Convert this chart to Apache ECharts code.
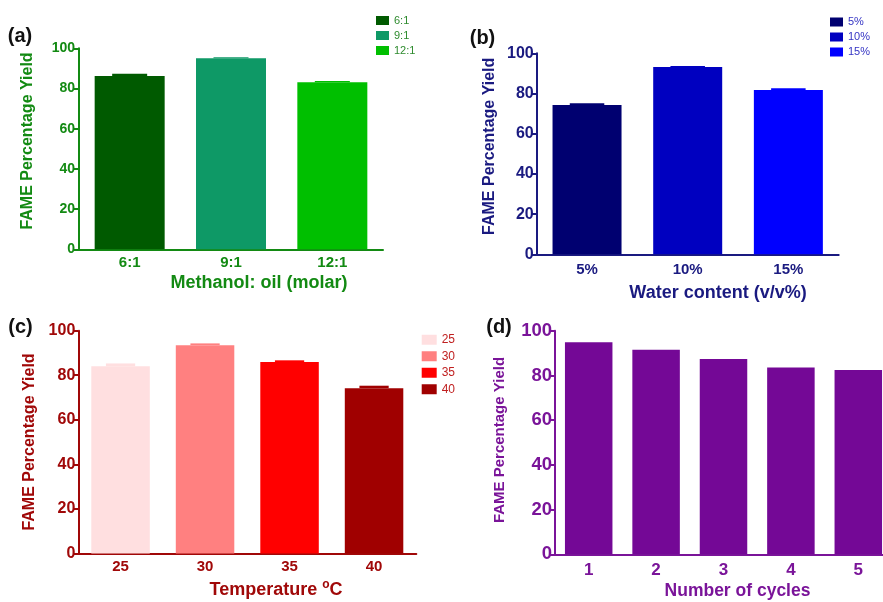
<!DOCTYPE html>
<html>
<head>
<meta charset="utf-8">
<script src="https://cdn.jsdelivr.net/npm/echarts@6/dist/echarts.min.js"></script>
<style>
html,body{margin:0;padding:0;background:#fff;}
#chart{width:883px;height:602px;}
</style>
</head>
<body>
<div id="chart"></div>
<script>
// ---- data ----
const catsA = ['6:1', '9:1', '12:1'];
const valsA = [86.2, 95.0, 83.1];
const errsA = [1.2, 0.6, 0.6];

const catsB = ['5%', '10%', '15%'];
const valsB = [74.3, 93.2, 81.7];
const errsB = [0.8, 0.5, 0.9];

const catsC = ['25', '30', '35', '40'];
const valsC = [84.0, 93.5, 85.9, 74.2];
const errsC = [1.3, 0.8, 0.8, 1.1];

const catsD = ['1', '2', '3', '4', '5'];
const valsD = [94.8, 91.5, 87.3, 83.5, 82.4];

const yMin = 0, yMax = 100, yStep = 20;

// ---- styling ----
const FONT = "'Liberation Sans', Arial, sans-serif";
const panels = [
  { cats: catsA, vals: valsA, errs: errsA, colors: ['#005a00', '#0e9966', '#00bf00'],
    axis: '#138a13', legendText: '#2e8b2e',
    grid: { left: 79, top: 48.3, width: 304, height: 201 }, barWidth: 70,
    yFont: 14, xFont: 15, xMargin: 6, yMargin: 4,
    legend: { left: 376, top: 14.5, w: 13, h: 9, gap: 3, font: 11, lh: 12 } },
  { cats: catsB, vals: valsB, errs: errsB, colors: ['#000070', '#0000c0', '#0000ff'],
    axis: '#1a1a80', legendText: '#3434c4',
    grid: { left: 536.7, top: 53.3, width: 302, height: 201 }, barWidth: 69,
    yFont: 16, xFont: 15, xMargin: 8, yMargin: 3,
    legend: { left: 830, top: 16, w: 13, h: 9, gap: 3, font: 11, lh: 12 } },
  { cats: catsC, vals: valsC, errs: errsC, colors: ['#ffdfe0', '#ff8080', '#ff0000', '#a00000'],
    axis: '#a00808', legendText: '#c02020',
    grid: { left: 78.3, top: 330.7, width: 338, height: 222.7 }, barWidth: 58.5,
    yFont: 16, xFont: 15, xMargin: 6, yMargin: 3,
    legend: { left: 421.7, top: 333, w: 15, h: 10, gap: 3, font: 12, lh: 13.5 } },
  { cats: catsD, vals: valsD, errs: null, colors: ['#740896'],
    axis: '#7a1499', legendText: null,
    grid: { left: 555, top: 330.7, width: 337, height: 223.6 }, barWidth: 47.5,
    yFont: 18.5, xFont: 17, xMargin: 8, yMargin: 3, legend: null }
];

const grids = [], xAxes = [], yAxes = [], series = [], legends = [];
panels.forEach((p, gi) => {
  grids.push(Object.assign({ outerBoundsMode: 'none', containLabel: false }, p.grid));
  xAxes.push({
    type: 'category', gridIndex: gi, data: p.cats,
    axisLine: { lineStyle: { color: p.axis, width: 2 } },
    axisTick: { alignWithLabel: true, length: 4, lineStyle: { color: p.axis, width: 2 } },
    axisLabel: { color: p.axis, fontSize: p.xFont, fontWeight: 'bold', fontFamily: FONT, margin: p.xMargin },
    splitLine: { show: false }
  });
  yAxes.push({
    type: 'value', gridIndex: gi, min: yMin, max: yMax, interval: yStep,
    axisLine: { show: true, lineStyle: { color: p.axis, width: 2 } },
    axisTick: { show: true, length: 5, lineStyle: { color: p.axis, width: 2 } },
    axisLabel: { color: p.axis, fontSize: p.yFont, fontWeight: 'bold', fontFamily: FONT, margin: p.yMargin },
    splitLine: { show: false }
  });
  if (p.cats.length === p.colors.length && p.legend) {
    p.cats.forEach((c, i) => {
      series.push({
        type: 'bar', name: c, xAxisIndex: gi, yAxisIndex: gi, stack: 'p' + gi,
        barWidth: p.barWidth,
        data: p.vals.map((v, j) => (j === i ? v : '-')),
        itemStyle: { color: p.colors[i] },
        emphasis: { disabled: true }
      });
    });
    legends.push({
      orient: 'vertical', left: p.legend.left, top: p.legend.top,
      data: p.cats, icon: 'rect', itemWidth: p.legend.w, itemHeight: p.legend.h,
      itemGap: p.legend.gap, selectedMode: false, padding: 0,
      textStyle: { color: p.legendText, fontSize: p.legend.font, fontFamily: FONT, lineHeight: p.legend.lh, padding: [0, 0, 0, 0] }
    });
  } else {
    series.push({
      type: 'bar', name: 'cycles', xAxisIndex: gi, yAxisIndex: gi, barWidth: p.barWidth,
      data: p.vals, itemStyle: { color: p.colors[0] }, emphasis: { disabled: true }
    });
  }
  if (p.errs) {
    const bw = p.barWidth, cols = p.colors;
    series.push({
      type: 'custom', xAxisIndex: gi, yAxisIndex: gi, z: 3,
      data: p.vals.map((v, i) => [i, v, p.errs[i]]),
      encode: { x: 0, y: 1 },
      renderItem: function (params, api) {
        const i = api.value(0), v = api.value(1), e = api.value(2);
        const base = api.coord([i, v]);
        const top = api.coord([i, v + e]);
        const w = bw * 0.5;
        return {
          type: 'rect',
          shape: { x: base[0] - w / 2, y: top[1], width: w, height: base[1] - top[1] },
          style: { fill: cols[i] }
        };
      }
    });
  }
});

function ytitle(x, y, color, size) {
  return { type: 'text', x: x, y: y, rotation: Math.PI / 2,
    style: { text: 'FAME Percentage Yield', fill: color, font: 'bold ' + size + 'px ' + FONT,
      align: 'center', verticalAlign: 'middle' } };
}
function xtitle(x, y, text, color, size) {
  return { type: 'text', x: x, y: y,
    style: { text: text, fill: color, font: 'bold ' + size + 'px ' + FONT,
      align: 'center', verticalAlign: 'middle' } };
}
function letter(x, y, text) {
  return { type: 'text', x: x, y: y,
    style: { text: text, fill: '#111', font: 'bold 20px ' + FONT, align: 'center', verticalAlign: 'middle' } };
}

const graphics = [
  letter(20, 36, '(a)'), letter(482.5, 38, '(b)'), letter(20.5, 327, '(c)'), letter(499, 327, '(d)'),
  ytitle(27.3, 141, panels[0].axis, 16),
  ytitle(489.3, 146.3, panels[1].axis, 16),
  ytitle(30, 442, panels[2].axis, 16),
  ytitle(500, 440, panels[3].axis, 15),
  xtitle(259, 283.5, 'Methanol: oil (molar)', panels[0].axis, 18),
  xtitle(718, 293, 'Water content (v/v%)', panels[1].axis, 18),
  { type: 'text', x: 276, y: 590,
    style: { text: 'Temperature {s|o}C', fill: panels[2].axis, font: 'bold 18px ' + FONT,
      align: 'center', verticalAlign: 'middle',
      rich: { s: { fontSize: 12, fontWeight: 'bold', fontFamily: FONT, fill: panels[2].axis, verticalAlign: 'top', padding: [0, 0, 10, 0] } } } },
  xtitle(737.5, 591.5, 'Number of cycles', panels[3].axis, 17.5)
];

const chart = echarts.init(document.getElementById('chart'), null, { renderer: 'canvas' });
chart.setOption({
  animation: false,
  backgroundColor: '#ffffff',
  textStyle: { fontFamily: FONT },
  grid: grids, xAxis: xAxes, yAxis: yAxes, series: series,
  legend: legends,
  graphic: graphics
});
</script>
</body>
</html>
